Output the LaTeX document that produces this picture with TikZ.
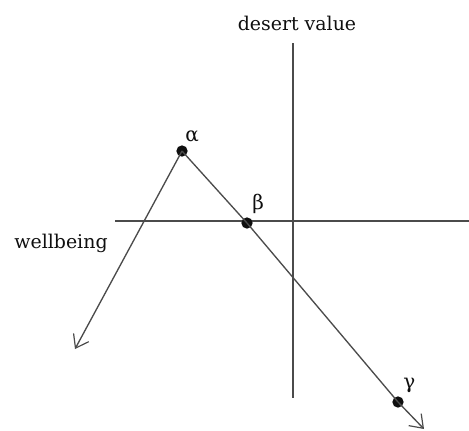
\documentclass[tikz,border=0pt]{standalone}
\usepackage{fontspec}
\setmainfont{DejaVu Serif}
\usepackage{xcolor}
\usetikzlibrary{positioning,arrows.meta,calc}
\definecolor{axisgray}{RGB}{75,75,75}
\definecolor{ink}{RGB}{15,15,15}
\tikzset{
  axisline/.style={axisgray,line width=1pt},
  pathline/.style={axisgray,line width=1pt},
  statedot/.style={circle,fill=ink,inner sep=0pt,minimum size=8.5pt},
  lbl/.style={ink,font=\fontsize{14.2}{16}\selectfont,inner sep=0pt},
  greek/.style={ink,font=\fontsize{15}{17}\selectfont,inner sep=0pt,anchor=south west},
  openhead/.style={-{Straight Barb[length=9pt,width=13pt,line width=0.9pt]}}
}
\begin{document}
\begin{tikzpicture}[x=0.75pt,y=-0.75pt]
\useasboundingbox (0,0) rectangle (469,430);
% axes
\coordinate (vtop) at (293,43);
\coordinate (vbot) at (293,398);
\coordinate (hleft) at (115,221);
\coordinate (hright) at (469,221);
\draw[axisline] (vtop) -- (vbot);
\draw[axisline] (hleft) -- (hright);
\node[lbl] (desert) at (297,23) {desert value};
\node[lbl] (wellbeing) at (61,243) {wellbeing};
% states
\node[statedot] (alpha) at (182,151) {};
\node[statedot] (beta) at (247,223) {};
\node[statedot] (gamma) at (398,402) {};
\node[greek] (alphalbl) at (185,142) {α};
\node[greek] (betalbl) at (252,214) {β};
\node[greek] (gammalbl) at (403,393) {γ};
% paths
\coordinate (leftend) at (75,349);
\coordinate (rightend) at (424,429);
\draw[pathline,openhead] (alpha.center) -- (leftend);
\draw[pathline] (alpha.center) -- (beta.center);
\draw[pathline] (beta.center) -- (gamma.center);
\draw[pathline,openhead] (gamma.center) -- (rightend);
\end{tikzpicture}
\end{document}
